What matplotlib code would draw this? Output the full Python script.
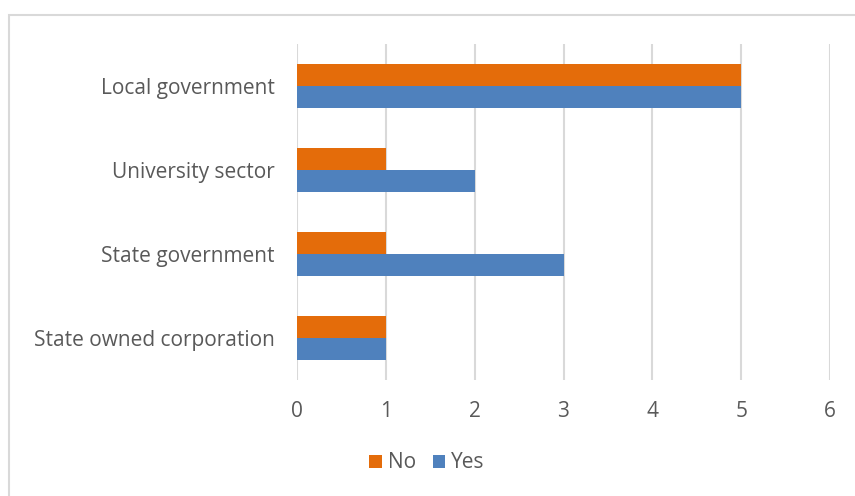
import matplotlib.pyplot as plt
from matplotlib.patches import Rectangle
import numpy as np

categories = ['State owned corporation', 'State government', 'University sector', 'Local government']
no_counts = [1, 1, 1, 5]
yes_counts = [1, 3, 2, 5]
xticks = [0, 1, 2, 3, 4, 5, 6]

orange = '#E46C0A'
blue = '#4F81BD'
grid = '#D9D9D9'
text = '#595959'

plt.rcParams['font.family'] = ['Open Sans', 'DejaVu Sans']

fig = plt.figure(figsize=(8.55, 4.96), dpi=100)

# chart border (runs off the right and bottom edges)
fig.patches.append(Rectangle((9 / 855, -0.1), 1.0, 1 - 15 / 496 + 0.1,
                             transform=fig.transFigure, fill=False,
                             edgecolor=grid, linewidth=1.5))

ax = fig.add_axes([297 / 855, 1 - 380 / 496, 533 / 855, 336 / 496])

y = np.arange(len(categories))
h = 0.26
ax.barh(y + h / 2, no_counts, height=h, color=orange, label='No', zorder=3)
ax.barh(y - h / 2, yes_counts, height=h, color=blue, label='Yes', zorder=3)

ax.set_xlim(0, 6)
ax.set_ylim(-0.5, 3.5)
ax.set_xticks(xticks)
ax.set_yticks(y)
ax.set_yticklabels(categories)
ax.xaxis.grid(True, color=grid, linewidth=1.5, zorder=0)
for s in ax.spines.values():
    s.set_visible(False)
ax.tick_params(axis='both', length=0, labelsize=15, labelcolor=text)
ax.tick_params(axis='x', pad=15)
ax.tick_params(axis='y', pad=16)

ax.legend(loc='center', bbox_to_anchor=(427 / 855, 1 - 463 / 496),
          bbox_transform=fig.transFigure, ncol=2, frameon=False,
          fontsize=15, labelcolor=text, handlelength=0.6, handleheight=0.6,
          handletextpad=0.3, columnspacing=0.8)

fig.savefig('out.png', dpi=100)
